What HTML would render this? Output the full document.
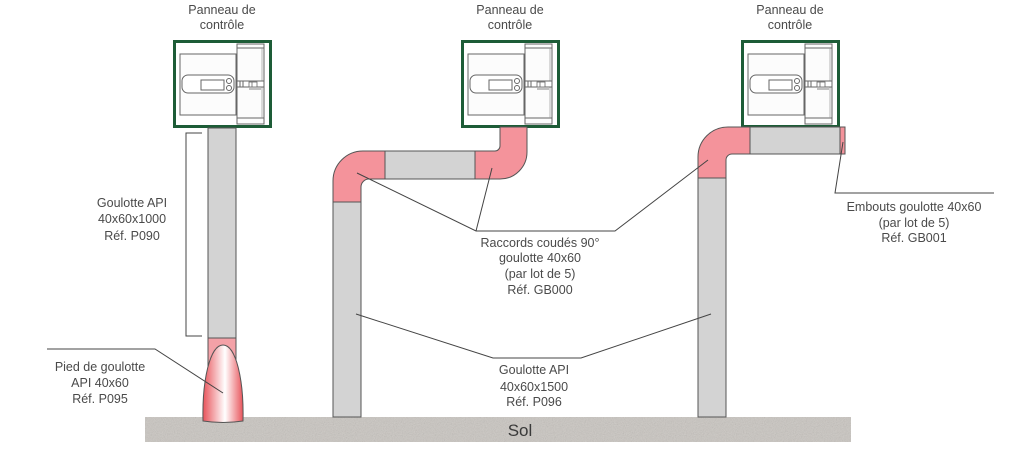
<!DOCTYPE html>
<html><head><meta charset="utf-8"><style>
html,body{margin:0;padding:0;background:#fff;}
svg{display:block;}
text{font-family:"Liberation Sans",sans-serif;fill:#4a4a4a;font-size:12.5px;text-anchor:middle;}
</style></head><body>
<svg width="1024" height="449" viewBox="0 0 1024 449" xmlns="http://www.w3.org/2000/svg">
<defs>
<linearGradient id="bul" x1="0" x2="1" y1="0" y2="0">
<stop offset="0" stop-color="#e8535a"/>
<stop offset="0.55" stop-color="#ffffff"/>
<stop offset="1" stop-color="#e8535a"/>
</linearGradient>
<filter id="noise" x="0" y="0" width="100%" height="100%">
<feTurbulence type="fractalNoise" baseFrequency="0.9" numOctaves="2" result="n"/>
<feColorMatrix type="saturate" values="0"/>
<feComponentTransfer><feFuncA type="linear" slope="0.35"/></feComponentTransfer>
<feComposite in2="SourceGraphic" operator="in"/>
</filter>
<g id="panel">
<rect x="1.5" y="1.5" width="96" height="85" fill="#fff" stroke="#1d5c37" stroke-width="3"/>
<rect x="7" y="14" width="56" height="61" fill="#fcfcfc" stroke="#666" stroke-width="1"/>
<rect x="9" y="35" width="52" height="18" rx="6" fill="#fff" stroke="#666" stroke-width="1"/>
<rect x="28" y="40" width="23" height="10" fill="#fff" stroke="#666" stroke-width="1"/>
<circle cx="56" cy="41" r="2.5" fill="#fff" stroke="#666" stroke-width="1"/>
<circle cx="56" cy="48" r="2.5" fill="#fff" stroke="#666" stroke-width="1"/>
<rect x="64" y="4" width="27" height="80" fill="#fcfcfc" stroke="#666" stroke-width="1"/>
<line x1="64" y1="8" x2="91" y2="8" stroke="#666"/>
<line x1="64" y1="78" x2="91" y2="78" stroke="#666"/>
<line x1="89" y1="8" x2="89" y2="78" stroke="#999" stroke-width="0.7"/>
<rect x="64" y="41" width="27" height="6" fill="#fff" stroke="#666" stroke-width="1"/>
<line x1="67" y1="41" x2="67" y2="47" stroke="#666"/>
<line x1="70" y1="41" x2="70" y2="47" stroke="#666"/>
<rect x="76" y="42" width="8" height="5" fill="#fff" stroke="#666" stroke-width="0.8"/>
<line x1="79" y1="42" x2="79" y2="47" stroke="#666" stroke-width="0.8"/>
<line x1="76" y1="49" x2="88" y2="49" stroke="#666" stroke-width="0.8"/>
</g>
</defs>

<!-- ground -->
<rect x="145" y="417" width="706" height="25" fill="#c9c5c0"/>
<rect x="145" y="417" width="706" height="25" fill="#c9c5c0" filter="url(#noise)"/>
<text x="520" y="436" style="font-size:17px;fill:#3a3a3a">Sol</text>

<!-- titles -->
<text x="222" y="14">Panneau de</text><text x="222" y="29">contrôle</text>
<text x="510" y="14">Panneau de</text><text x="510" y="29">contrôle</text>
<text x="790" y="14">Panneau de</text><text x="790" y="29">contrôle</text>

<!-- panels -->
<use href="#panel" x="173" y="40"/>
<use href="#panel" x="461" y="40"/>
<use href="#panel" x="741" y="40"/>

<!-- left system -->
<rect x="208" y="128" width="28" height="210" fill="#d3d3d3" stroke="#555" stroke-width="1"/>
<rect x="208" y="338" width="28" height="83" fill="#f4a1a7" stroke="#555" stroke-width="1"/>
<path d="M203,421 C202,380 210,345 223,345 C236,345 244,380 243,421 Q223,424 203,421 Z" fill="url(#bul)" stroke="#555" stroke-width="1"/>

<!-- middle system -->
<rect x="333" y="202" width="28" height="215" fill="#d3d3d3" stroke="#555" stroke-width="1"/>
<path d="M333,202 L333,181 A30,30 0 0 1 363,151 L385,151 L385,179 L369,179 A8,8 0 0 0 361,187 L361,202 Z" fill="#f4939b" stroke="#555" stroke-width="1"/>
<rect x="385" y="151" width="90" height="28" fill="#d3d3d3" stroke="#555" stroke-width="1"/>
<path d="M475,151 L495,151 A5,5 0 0 0 500,146 L500,127 L527,127 L527,152 A27,27 0 0 1 500,179 L475,179 Z" fill="#f4939b" stroke="#555" stroke-width="1"/>

<!-- right system -->
<rect x="698" y="178" width="28" height="239" fill="#d3d3d3" stroke="#555" stroke-width="1"/>
<path d="M698,178 L698,157 A30,30 0 0 1 728,127 L750,127 L750,154 L732,154 A6,6 0 0 0 726,160 L726,178 Z" fill="#f4939b" stroke="#555" stroke-width="1"/>
<rect x="750" y="127" width="90" height="27" fill="#d3d3d3" stroke="#555" stroke-width="1"/>
<rect x="840" y="127" width="5" height="27" fill="#f4939b" stroke="#555" stroke-width="1"/>

<!-- leaders -->
<g fill="none" stroke="#444" stroke-width="1">
<path d="M202,133 L186,133 L186,336 L202,336"/>
<path d="M47,349 L155,349 L223,393"/>
<path d="M357,173 L476,231 L615,231 L708,160"/>
<path d="M492,168 L476,231"/>
<path d="M356,314 L493,358 L581,358 L711,314"/>
<path d="M843,142 L835,193 L994,193"/>
</g>

<!-- labels -->
<text x="132" y="207">Goulotte API</text>
<text x="132" y="223">40x60x1000</text>
<text x="132" y="240">Réf. P090</text>

<text x="100" y="371">Pied de goulotte</text>
<text x="100" y="387">API 40x60</text>
<text x="100" y="403">Réf. P095</text>

<text x="540" y="247">Raccords coudés 90°</text>
<text x="540" y="262">goulotte 40x60</text>
<text x="540" y="278">(par lot de 5)</text>
<text x="540" y="294">Réf. GB000</text>

<text x="534" y="374">Goulotte API</text>
<text x="534" y="391">40x60x1500</text>
<text x="534" y="406">Réf. P096</text>

<text x="914" y="211">Embouts goulotte 40x60</text>
<text x="914" y="227">(par lot de 5)</text>
<text x="914" y="242">Réf. GB001</text>
</svg>
</body></html>
